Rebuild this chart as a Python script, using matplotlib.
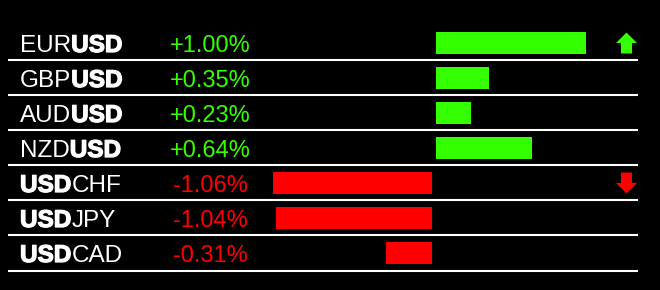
# Tablero de fuerza del USD: pares de divisas con su variación porcentual
import matplotlib
matplotlib.use('Agg')
import matplotlib.pyplot as plt
import matplotlib.patheffects as pe
import numpy as np

# Datos del gráfico (divisa base, divisa cotizada y variación en %)
divisa_base = ['EUR', 'GBP', 'AUD', 'NZD', 'USD', 'USD', 'USD']
divisa_cotizada = ['USD', 'USD', 'USD', 'USD', 'CHF', 'JPY', 'CAD']
variaciones = [1.00, 0.35, 0.23, 0.64, -1.06, -1.04, -0.31]

VERDE = '#33ff00'
ROJO = '#ff0000'
FUENTE = 'Liberation Sans'

# Cada fila ocupa 35 px; la primera está centrada en y=43 px
ALTO_FILA = 35.0
AJUSTE_BASE = 9 / ALTO_FILA  # desplazamiento de la línea base del texto

fig = plt.figure(figsize=(6.6, 2.9), dpi=100, facecolor='black')

# Eje principal: x en píxeles, y en unidades de fila
ax = fig.add_axes([0, 0, 1, 1])
ax.set_xlim(0, 660)
ax.set_ylim(247 / ALTO_FILA, -43 / ALTO_FILA)
ax.axis('off')

# Eje de las barras: x en puntos porcentuales (150 px por cada 1%)
ax_barras = fig.add_axes([250 / 660, 0, 360 / 660, 1], sharey=ax)
ax_barras.set_xlim(-184 / 150, 176 / 150)
ax_barras.axis('off')

filas = np.arange(len(variaciones))
valores = np.array(variaciones)
colores = [VERDE if v >= 0 else ROJO for v in valores]

# Pequeño hueco entre las barras verdes y las rojas
hueco = np.sign(valores) * 2 / 150
ax_barras.barh(filas, valores, left=hueco, height=22 / ALTO_FILA, color=colores)

# Líneas separadoras blancas debajo de cada fila
ax.hlines(filas + 0.5, 8, 638, color='white', lw=1.5)

# Trazo extra para que la negrita se vea más gruesa, como en el original
grueso = [pe.withStroke(linewidth=0.9, foreground='white')]

for fila, base, cotizada, valor, color in zip(filas, divisa_base, divisa_cotizada, valores, colores):
    y_texto = fila + AJUSTE_BASE
    # El USD se escribe siempre en negrita
    negrita_base = base == 'USD'
    negrita_cotizada = cotizada == 'USD'
    primero = ax.text(20, y_texto, base, color='white', fontsize=17.5,
                      fontweight='bold' if negrita_base else 'normal', family=FUENTE,
                      va='baseline', path_effects=grueso if negrita_base else None)
    ax.annotate(cotizada, xy=(1, 0), xycoords=primero, color='white', fontsize=17.5,
                fontweight='bold' if negrita_cotizada else 'normal', family=FUENTE,
                va='bottom', ha='left', path_effects=grueso if negrita_cotizada else None)
    # Variación porcentual
    ax.text(210, y_texto, f'{valor:+.2f}%', color=color, fontsize=17,
            family=FUENTE, va='baseline', ha='center')

# Flechas: subida en el par más fuerte, bajada en el más débil
dx = np.array([0, 10.5, 5.5, 5.5, -5.5, -5.5, -10.5])
dy = np.array([-10.5, 0, 0, 10.5, 10.5, 0, 0]) / ALTO_FILA
fila_max = int(np.argmax(valores))
fila_min = int(np.argmin(valores))
ax.fill(626.5 + dx, fila_max + dy, color=VERDE, lw=0)
ax.fill(626.5 + dx, fila_min - dy, color=ROJO, lw=0)

fig.savefig('out.png', dpi=100, facecolor='black')
